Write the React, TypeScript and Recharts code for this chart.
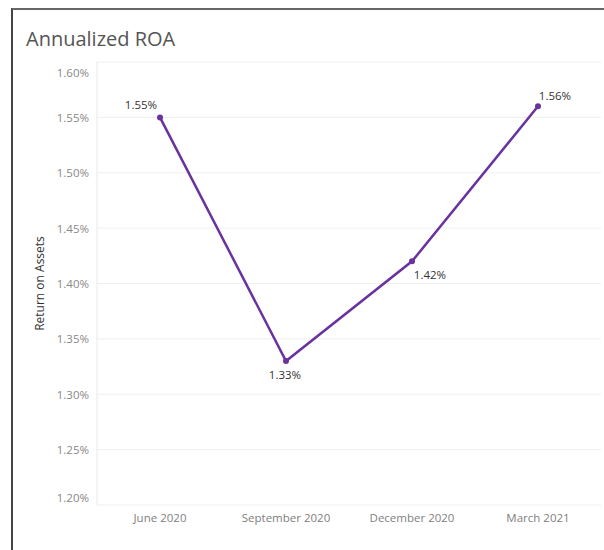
import { LineChart, Line, XAxis, YAxis, CartesianGrid, LabelList } from "recharts";

const quarters = ["June 2020", "September 2020", "December 2020", "March 2021"];
const roaValues = [1.55, 1.33, 1.42, 1.56];
const yTicks = [1.2, 1.25, 1.3, 1.35, 1.4, 1.45, 1.5, 1.55, 1.6];
// where each value label sits relative to its point
const labelSpots = ["topLeft", "bottom", "bottomRight", "topRight"];

const data = quarters.map((q, i) => ({ quarter: q, roa: roaValues[i] }));
const boundaryTicks = [...quarters.map((_, i) => i), quarters.length];

const FONT = "'Open Sans', Lato, sans-serif";
const PURPLE = "#6a329e";

const fmt = (v: number) => `${v.toFixed(2)}%`;

function PointLabel(props: any) {
  const { x, y, value, index } = props;
  const spot = labelSpots[index];
  let dx = 0;
  let dy = 0;
  if (spot === "topLeft") { dx = -19; dy = -13; }
  if (spot === "topRight") { dx = 17; dy = -11; }
  if (spot === "bottom") { dx = -1; dy = 13; }
  if (spot === "bottomRight") { dx = 18; dy = 13; }
  return (
    <text
      x={x + dx}
      y={y + dy}
      textAnchor="middle"
      dominantBaseline="central"
      fill="#333"
      fontSize={11.5}
      fontFamily={FONT}
    >
      {fmt(value)}
    </text>
  );
}

// tableau keeps the first/last y labels inside the plot
function YTick(props: any) {
  const { x, y, payload } = props;
  const v = payload.value;
  let shift = 0;
  if (v === yTicks[0]) shift = -8;
  if (v === yTicks[yTicks.length - 1]) shift = 10;
  return (
    <text
      x={x}
      y={y + shift}
      textAnchor="end"
      dominantBaseline="central"
      fill="#888"
      fontSize={11.5}
      fontFamily={FONT}
    >
      {fmt(v)}
    </text>
  );
}

export default function App() {
  return (
    <div style={{ position: "absolute", left: 0, top: 0, width: 604, height: 550, background: "#fff", fontFamily: FONT }}>
      <div
        style={{
          position: "absolute",
          left: 11,
          top: 8,
          right: 0,
          bottom: 0,
          borderLeft: "2px solid #444",
          borderTop: "2px solid #666",
        }}
      />
      <div style={{ position: "absolute", left: 26, top: 27, fontSize: 20, color: "#555", lineHeight: "24px" }}>
        Annualized ROA
      </div>
      <LineChart width={604} height={550} data={data} margin={{ top: 62, right: 3, bottom: 15, left: 10 }}>
        <CartesianGrid xAxisId="main" vertical={false} stroke="#efefef" />
        <XAxis
          xAxisId="sep"
          type="number"
          domain={[0, quarters.length]}
          ticks={boundaryTicks}
          allowDataOverflow
          height={0}
          axisLine={false}
          tick={false}
          tickSize={7}
          tickLine={{ stroke: "#e6e6e6" }}
        />
        <XAxis
          xAxisId="main"
          dataKey="quarter"
          scale="band"
          height={30}
          axisLine={false}
          tickLine={false}
          tickMargin={3}
          tick={{ fill: "#808080", fontSize: 11.5, fontFamily: FONT }}
          interval={0}
        />
        <YAxis
          width={87}
          domain={[1.2, 1.6]}
          ticks={yTicks}
          axisLine={{ stroke: "#e8e8e8" }}
          tickLine={false}
          tick={<YTick />}
          label={{
            content: ({ viewBox }: any) => {
              const cx = viewBox.x + 29;
              const cy = viewBox.y + viewBox.height / 2;
              return (
                <text
                  x={cx}
                  y={cy}
                  transform={`rotate(-90, ${cx}, ${cy})`}
                  textAnchor="middle"
                  dominantBaseline="central"
                  fill="#333"
                  fontSize={12}
                  fontFamily={FONT}
                >
                  Return on Assets
                </text>
              );
            },
          }}
        />
        <Line
          xAxisId="main"
          type="linear"
          dataKey="roa"
          stroke={PURPLE}
          strokeWidth={2.5}
          dot={{ r: 3, fill: PURPLE, stroke: PURPLE, strokeWidth: 0 }}
          isAnimationActive={false}
        >
          <LabelList dataKey="roa" content={<PointLabel />} />
        </Line>
      </LineChart>
    </div>
  );
}
